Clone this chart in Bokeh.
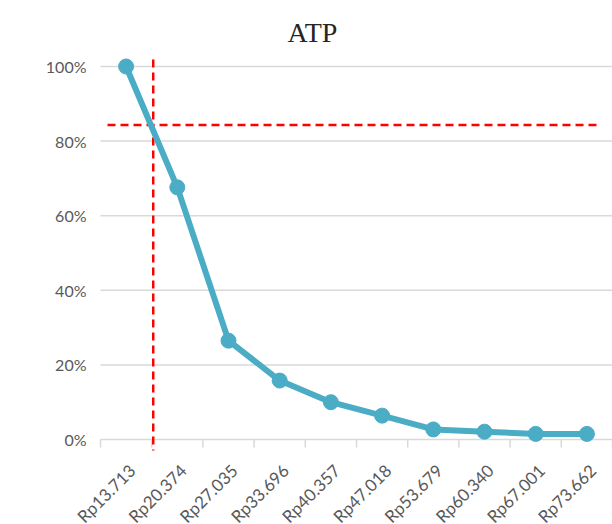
from bokeh.plotting import figure
from bokeh.models import Range1d
from bokeh.core.properties import value
from bokeh.embed import file_html
from bokeh.resources import INLINE
import math

# ---- data ----
title_text = "ATP"
categories = ["Rp13.713", "Rp20.374", "Rp27.035", "Rp33.696", "Rp40.357",
              "Rp47.018", "Rp53.679", "Rp60.340", "Rp67.001", "Rp73.662"]
atp_values = [1.00, 0.676, 0.265, 0.158, 0.100, 0.064, 0.027, 0.021, 0.015, 0.015]
y_ticks = [0.0, 0.2, 0.4, 0.6, 0.8, 1.0]
y_tick_labels = ["0%", "20%", "40%", "60%", "80%", "100%"]
ref_level = 0.843          # horizontal red reference (share)
ref_price_pos = 1.03       # vertical red reference (category position)

n = len(categories)
xs = [i + 0.5 for i in range(n)]
boundaries = list(range(n + 1))

W, H = 612, 524
pxx = 51.2                 # pixels per category
pxy = 373.0                # pixels per 100%
left_px, zero_px, top_px = 100, 439, 66

p = figure(width=W, height=H, output_backend="svg", toolbar_location=None,
           x_axis_location=None, y_axis_location=None,
           x_range=Range1d(-left_px / pxx, n),
           y_range=Range1d(-(H - zero_px) / pxy, 1 + top_px / pxy),
           min_border_left=0, min_border_right=0, min_border_bottom=0, min_border_top=0)

p.outline_line_color = None
p.background_fill_color = "white"
p.grid.visible = False

# horizontal gridlines (0%..100%)
p.segment(x0=[0] * len(y_ticks), y0=y_ticks, x1=[n] * len(y_ticks), y1=y_ticks,
          line_color="#D9D9D9", line_width=1.5)

# category boundary tick marks below the 0% line
p.segment(x0=boundaries, y0=[0] * (n + 1), x1=boundaries, y1=[-8 / pxy] * (n + 1),
          line_color="#D9D9D9", line_width=1.5)

# y tick labels
p.text(x=[0] * len(y_ticks), y=y_ticks, text=y_tick_labels, x_offset=-14,
       text_align="right", text_baseline="middle", text_font=value("Lato"),
       text_font_size="16px", text_color="#595959")

# rotated category labels
p.text(x=xs, y=[-28 / pxy] * n, text=categories, x_offset=6, angle=math.pi / 4,
       text_align="right", text_baseline="middle", text_font=value("Lato"),
       text_font_size="17px", text_color="#595959")

# title
p.text(x=[n / 2], y=[1 + (top_px - 32) / pxy], text=[title_text], x_offset=-44,
       text_align="center", text_baseline="alphabetic",
       text_font=value("Liberation Serif"), text_font_size="28px", text_color="#262626")

# reference lines
p.segment(x0=[0.137], y0=[ref_level], x1=[9.75], y1=[ref_level],
          line_color="#FF0000", line_width=2.5, line_dash="8 5")
p.segment(x0=[ref_price_pos], y0=[1 + 7 / pxy], x1=[ref_price_pos], y1=[-11 / pxy],
          line_color="#FF0000", line_width=2.5, line_dash="8 5")

# series
p.line(xs, atp_values, line_color="#4BACC6", line_width=6)
p.scatter(xs, atp_values, size=15, fill_color="#4BACC6", line_color="#4BACC6")

open("out.html", "w").write(file_html(p, INLINE))
